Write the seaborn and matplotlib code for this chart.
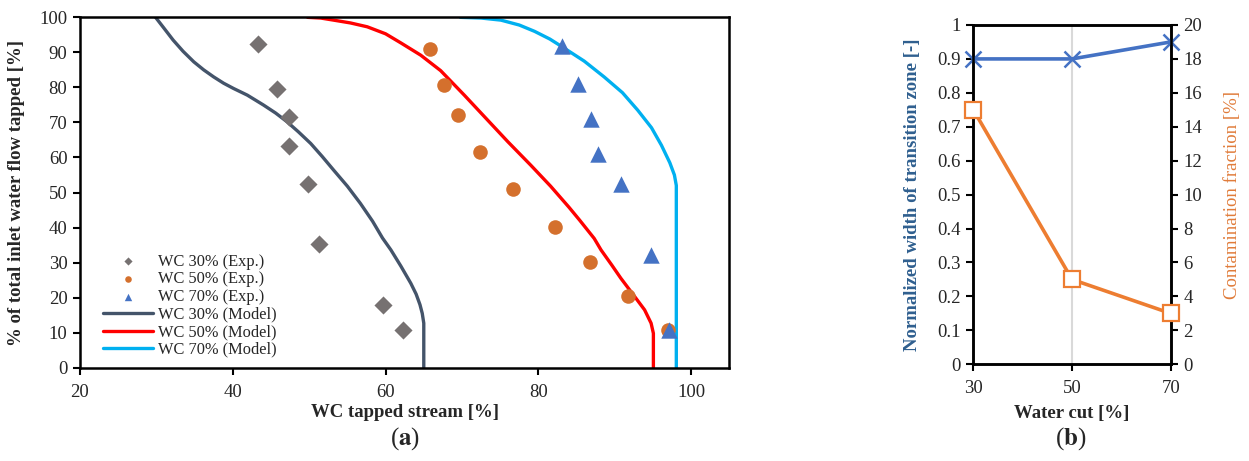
import matplotlib
matplotlib.use("Agg")
import matplotlib.pyplot as plt
from matplotlib.ticker import FuncFormatter
import seaborn as sns
import pandas as pd

sns.set_theme(style="white")
plt.rcParams["font.family"] = ["Liberation Serif", "DejaVu Serif"]
plt.rcParams["mathtext.fontset"] = "stix"

# ---- (a) experimental tapping data ----
exp30_wc = [43.3, 45.8, 47.4, 47.3, 49.9, 51.3, 59.6, 62.3]
exp30_flow = [92.4, 79.6, 71.5, 63.3, 52.3, 35.4, 17.9, 10.9]
exp50_wc = [65.8, 67.6, 69.5, 72.4, 76.7, 82.2, 86.8, 91.7, 96.9]
exp50_flow = [90.9, 80.6, 72.0, 61.6, 51.0, 40.2, 30.2, 20.5, 10.8]
exp70_wc = [83.1, 85.2, 86.9, 87.8, 90.8, 94.8, 97.1]
exp70_flow = [91.8, 81.0, 70.9, 60.9, 52.3, 32.2, 10.7]

# ---- (a) model curves ----
mod30_wc = [29.9, 31.0, 32.2, 33.5, 34.9, 36.2, 37.5, 38.8, 40.1, 41.9, 44.0,
            45.6, 47.1, 48.6, 50.2, 51.7, 53.2, 55.0, 56.7, 58.3, 59.6, 60.7,
            62.0, 63.3, 64.0, 64.5, 64.8, 65.0, 65.0]
mod30_flow = [100, 96.9, 93.5, 90.3, 87.3, 85.0, 83.0, 81.2, 79.7, 77.8, 75.0,
              72.7, 70.2, 67.3, 64.0, 60.3, 56.4, 51.8, 46.9, 41.8, 37.0, 33.6,
              29.0, 24.1, 21.0, 18.0, 15.5, 12.7, 0]
mod50_wc = [49.8, 51.5, 53.2, 55.4, 57.6, 60.0, 62.0, 64.6, 67.2, 70.3, 73.0,
            76.0, 79.0, 81.6, 84.0, 85.4, 87.3, 88.2, 89.6, 90.8, 92.6, 93.9,
            94.75, 95.05, 95.05]
mod50_flow = [100, 99.8, 99.2, 98.4, 97.3, 95.3, 92.7, 89.2, 84.8, 77.8, 71.5,
              64.5, 57.8, 51.8, 45.8, 42.1, 36.9, 33.6, 29.3, 25.5, 20.3, 16.5,
              12.7, 9.8, 0]
mod70_wc = [69.8, 72.5, 75.1, 77.5, 79.5, 81.5, 83.1, 86.0, 88.6, 91.0, 93.0,
            94.8, 96.1, 97.2, 97.8, 98.05, 98.05]
mod70_flow = [100, 99.8, 99.2, 97.8, 96.0, 93.8, 91.6, 87.5, 83.0, 78.5, 73.5,
              68.5, 63.5, 58.5, 55.0, 52.0, 0]

# ---- (b) transition zone and contamination ----
water_cut = [30, 50, 70]
norm_width = [0.90, 0.90, 0.95]
contamination = [15.0, 5.0, 3.0]

c_gray, c_orange_pt, c_blue_pt = "#767171", "#D4702D", "#4472C4"
c_m30, c_m50, c_m70 = "#44546A", "#FF0000", "#00B0F0"
c_blue, c_orange = "#4472C4", "#ED7D31"

fig = plt.figure(figsize=(12.49, 4.61), dpi=100)
ax = fig.add_axes([0.064, 0.2024, 0.520, 0.760])

exp_sets = [
    ("WC 30% (Exp.)", exp30_wc, exp30_flow, "D", c_gray, 85),
    ("WC 50% (Exp.)", exp50_wc, exp50_flow, "o", c_orange_pt, 110),
    ("WC 70% (Exp.)", exp70_wc, exp70_flow, "^", c_blue_pt, 140),
]
for lab, xs, ys, mk, col, s in exp_sets:
    sns.scatterplot(x=xs, y=ys, marker=mk, color=col, s=s, linewidth=0,
                    ax=ax, label=lab, zorder=3)

mod_sets = [
    ("WC 30% (Model)", mod30_wc, mod30_flow, c_m30),
    ("WC 50% (Model)", mod50_wc, mod50_flow, c_m50),
    ("WC 70% (Model)", mod70_wc, mod70_flow, c_m70),
]
for lab, xs, ys, col in mod_sets:
    df = pd.DataFrame({"wc": xs, "flow": ys})
    sns.lineplot(data=df, x="wc", y="flow", sort=False, estimator=None,
                 color=col, linewidth=2.4, ax=ax, label=lab, zorder=2)
for ln in ax.get_lines():
    ln.set_solid_joinstyle("round")

ax.set_xlim(20, 105)
ax.set_ylim(0, 100)
ax.set_xticks([20, 40, 60, 80, 100])
ax.set_yticks(range(0, 101, 10))
ax.tick_params(direction="out", length=5, width=1.5, labelsize=13.5,
               color="black", bottom=True, left=True, pad=4)
ax.tick_params(axis="x", pad=7)
for sp in ax.spines.values():
    sp.set_color("black")
    sp.set_linewidth(1.8)
ax.set_xlabel("WC tapped stream [%]", fontsize=13.5, fontweight="bold", labelpad=2)
ax.set_ylabel("% of total inlet water flow tapped [%]", fontsize=13.5,
              fontweight="bold", labelpad=10)
leg = ax.legend(loc="lower left", bbox_to_anchor=(0.035, 0.028), frameon=False,
                fontsize=11.8, handlelength=3.1, labelspacing=0.1,
                handletextpad=0.3, markerscale=0.45, borderpad=0,
                borderaxespad=0)

# ---- (b) ----
bx = fig.add_axes([0.7793, 0.2098, 0.1580, 0.7360])
sns.lineplot(x=water_cut, y=norm_width, color=c_blue, linewidth=2.6,
             marker="x", markersize=11, markeredgewidth=1.8,
             markeredgecolor=c_blue, ax=bx, zorder=3, clip_on=False)
bx.set_xlim(30, 70)
bx.set_ylim(0, 1)
bx.set_xticks([30, 50, 70])
bx.set_yticks([i / 10 for i in range(11)])
bx.yaxis.set_major_formatter(FuncFormatter(lambda v, p: f"{v:g}"))
bx.grid(axis="x", color="#D9D9D9", linewidth=1.5)
bx.grid(axis="y", visible=False)
bx.tick_params(direction="out", length=5, width=1.5, labelsize=13.5,
               color="black", bottom=True, left=True, pad=4)
bx.tick_params(axis="x", pad=6)
for sp in bx.spines.values():
    sp.set_color("black")
    sp.set_linewidth(1.8)
bx.set_xlabel("Water cut [%]", fontsize=13.5, fontweight="bold", labelpad=6)
bx.set_ylabel("Normalized width of transition zone [-]", fontsize=13.5,
              fontweight="bold", color="#2F5F8F", labelpad=12)

tx = bx.twinx()
sns.lineplot(x=water_cut, y=contamination, color=c_orange, linewidth=2.6,
             marker="s", markersize=11.5, markerfacecolor="white",
             markeredgecolor=c_orange, markeredgewidth=1.6, ax=tx, zorder=3,
             clip_on=False)
tx.set_ylim(0, 20)
tx.set_yticks(range(0, 21, 2))
tx.tick_params(direction="out", length=5, width=1.5, labelsize=13.5,
               color="black", right=True, pad=4)
tx.grid(False)
for sp in tx.spines.values():
    sp.set_color("black")
    sp.set_linewidth(1.8)
tx.set_ylabel("Contamination fraction [%]", fontsize=13.5, color="#E07B39",
              labelpad=16)

fig.text(0.324, 0.048, r"($\mathbf{a}$)", ha="center", va="center", fontsize=18)
fig.text(0.857, 0.048, r"($\mathbf{b}$)", ha="center", va="center", fontsize=18)

fig.savefig("out.png", dpi=100)
